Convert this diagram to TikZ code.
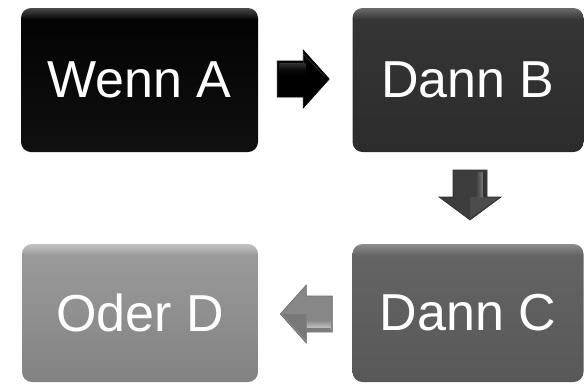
\documentclass[tikz,border=0pt]{standalone}
\usepackage{fontspec}
\setmainfont{Liberation Sans}
\usetikzlibrary{calc}

% box colours: low edge, body, top highlight
\definecolor{aLow}{HTML}{101010}\definecolor{aBody}{HTML}{030303}\definecolor{aTop}{HTML}{4A4A4A}
\definecolor{bLow}{HTML}{2C2C2C}\definecolor{bBody}{HTML}{353535}\definecolor{bTop}{HTML}{6A6A6A}
\definecolor{cLow}{HTML}{585858}\definecolor{cBody}{HTML}{646464}\definecolor{cTop}{HTML}{8E8E8E}
\definecolor{dLow}{HTML}{828282}\definecolor{dBody}{HTML}{9A9A9A}\definecolor{dTop}{HTML}{C2C2C2}

\pgfdeclareverticalshading{shA}{100bp}{color(0bp)=(aLow); color(25bp)=(aLow); color(71bp)=(aBody); color(75bp)=(aTop); color(100bp)=(aTop)}
\pgfdeclareverticalshading{shB}{100bp}{color(0bp)=(bLow); color(25bp)=(bLow); color(71bp)=(bBody); color(75bp)=(bTop); color(100bp)=(bTop)}
\pgfdeclareverticalshading{shC}{100bp}{color(0bp)=(cLow); color(25bp)=(cLow); color(71bp)=(cBody); color(75bp)=(cTop); color(100bp)=(cTop)}
\pgfdeclareverticalshading{shD}{100bp}{color(0bp)=(dLow); color(25bp)=(dLow); color(71bp)=(dBody); color(75bp)=(dTop); color(100bp)=(dTop)}

\begin{document}
\begin{tikzpicture}[x=1pt,y=-1pt,
  stepbox/.style={rectangle, rounded corners=10pt, inner sep=0pt,
    text=white, font=\fontsize{52}{60}\selectfont},
  arrowbody/.style={line width=0.6pt, line join=miter}]
\useasboundingbox (0,0) rectangle (585,384);

\node[stepbox, shading=shA, minimum width=237pt, minimum height=144pt] (A) at (139.5,80) {Wenn A};
\node[stepbox, shading=shB, minimum width=231pt, minimum height=144pt] (B) at (468,80) {Dann B};
\node[stepbox, shading=shC, minimum width=231pt, minimum height=138pt] (C) at (468,313) {Dann C};
\node[stepbox, shading=shD, minimum width=236pt, minimum height=138pt] (D) at (140,313) {Oder D};

% anchor points of the block arrows between the steps
\coordinate (ab) at ($(A.east)!0.5!(B.west) + (-2,-1)$);
\coordinate (bc) at ($(B.south)!0.5!(C.north) + (2,-3)$);
\coordinate (cd) at ($(D.east)!0.5!(C.west) + (1,1)$);

% A -> B : black arrow pointing right
\begin{scope}[shift={(ab)}]
  \path[arrowbody, fill=black, draw=black]
    (-26,-18) -- (0,-18) -- (0,-29) -- (26,0) -- (0,29) -- (0,18) -- (-26,18) -- cycle;
  \shade[top color=black!80, bottom color=black, middle color=black!95]
    (-24,-16) rectangle (2,-4);
  \draw[black!75, line width=0.5pt] (-24,-16) -- (0,-16) -- (0,-25) -- (22,-2);
\end{scope}

% B -> C : dark grey arrow pointing down
\begin{scope}[shift={(bc)}]
  \path[arrowbody, fill=black!76, draw=black!82]
    (-17,-25) -- (17,-25) -- (17,2) -- (31,2) -- (0,25) -- (-31,2) -- (-17,2) -- cycle;
  \shade[left color=black!76, right color=black!52] (6,-23) rectangle (13,2);
  \fill[black!80] (13,-23) rectangle (16,2);
  \fill[black!70] (0,2) -- (28,3) -- (0,23) -- cycle;
\end{scope}

% C -> D : light grey arrow pointing left
\begin{scope}[shift={(cd)}]
  \path[arrowbody, fill=black!47, draw=black!58]
    (26,-18) -- (0,-18) -- (0,-29) -- (-26,0) -- (0,29) -- (0,18) -- (26,18) -- cycle;
  \shade[top color=black!47, bottom color=black!24] (1,6) rectangle (24,14);
  \fill[black!52] (1,14) rectangle (24,17);
  \fill[black!53] (-24,0) -- (0,0) -- (0,26) -- cycle;
\end{scope}
\end{tikzpicture}
\end{document}
